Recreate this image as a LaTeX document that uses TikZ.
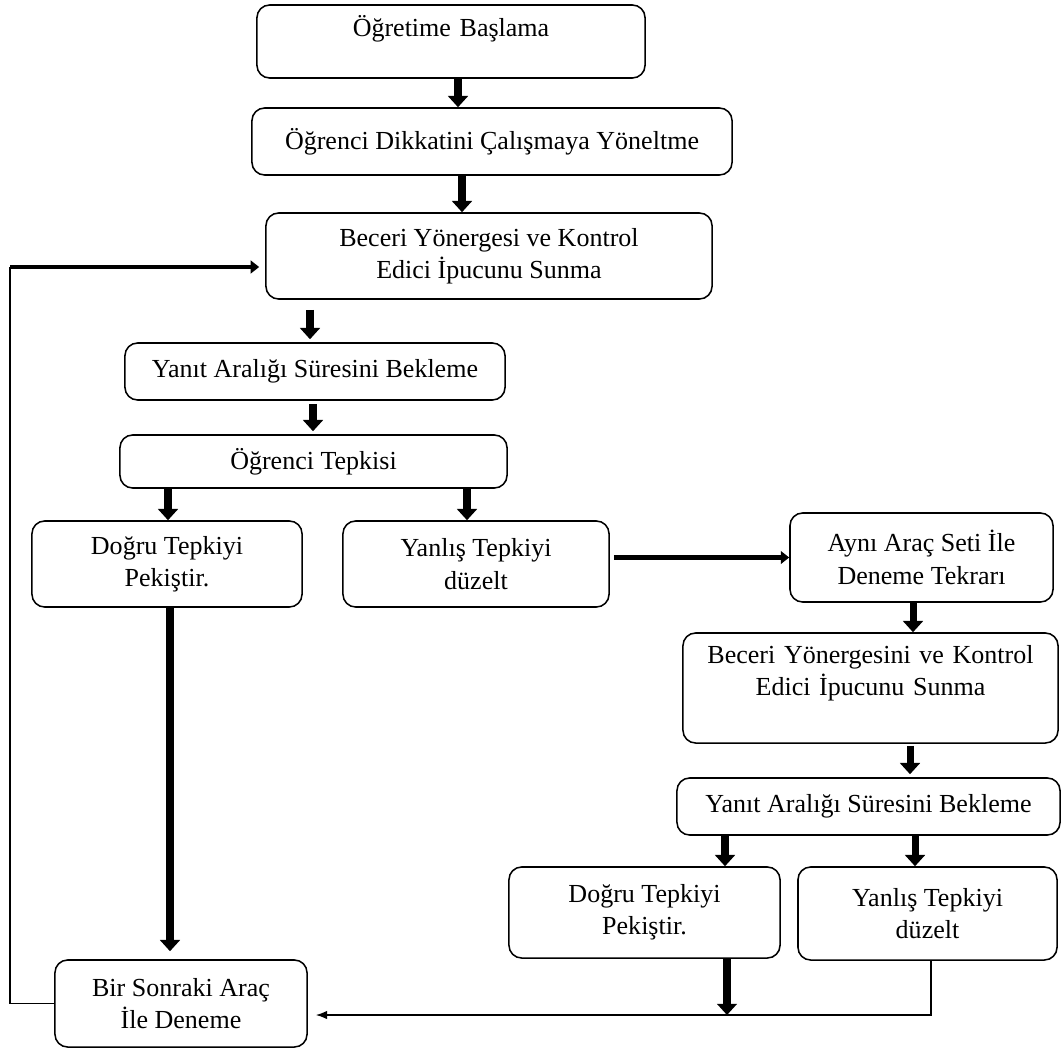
\documentclass[tikz,border=0pt]{standalone}
\usepackage{fontspec}
\setmainfont{Liberation Serif}
\usetikzlibrary{arrows.meta}
\tikzstyle{every node}=[rectangle, rounded corners=9pt, line width=1.1pt, align=center, inner sep=0pt, font=\fontsize{18.5}{23}\selectfont]
\tikzstyle{box}=[draw]
\tikzstyle{bigarrow}=[-{Triangle[length=8pt,width=14pt]}, line width=5pt]
\tikzstyle{midarrow}=[-{Triangle[length=6pt,width=9pt]}, line width=3.2pt]
\tikzstyle{thinline}=[line width=1pt]

\begin{document}
\begin{tikzpicture}[x=0.025cm, y=-0.025cm]
    \useasboundingbox (0,0) rectangle (1062,1052);
    % left column
    \node [box, text width=9.7cm, text height=0.8cm, text depth=1.025cm] (start) at (451,41.5) {Öğretime Başlama};
	\node [box, minimum width=12cm, minimum height=1.675cm] (dikkat) at (492,141.5) {Öğrenci Dikkatini Çalışmaya Yöneltme};
	\node [box, minimum width=11.15cm, minimum height=2.15cm] (beceri) at (489,256) {Beceri Yönergesi ve Kontrol\\Edici İpucunu Sunma};
	\node [box, minimum width=9.5cm, minimum height=1.425cm] (yanit) at (315,371.5) {Yanıt Aralığı Süresini Bekleme};
	\node [box, minimum width=9.675cm, minimum height=1.325cm] (tepki) at (313.5,461.5) {Öğrenci Tepkisi};
	\node [box, minimum width=6.75cm, minimum height=2.15cm] (dogru) at (167,564) {Doğru Tepkiyi\\Pekiştir.};
	\node [box, minimum width=6.65cm, minimum height=2.15cm] (yanlis) at (476,564) {Yanlış Tepkiyi\\düzelt};
	\node [box, minimum width=6.3cm, minimum height=2.175cm] (sonraki) at (181,1003.5) {Bir Sonraki Araç\\İle Deneme};
	% right column
	\node [box, minimum width=6.575cm, minimum height=2.225cm] (ayni) at (921.5,557.5) {Aynı Araç Seti İle\\Deneme Tekrarı};
	\node [box, text width=9.375cm, text height=0.75cm, text depth=2cm] (beceriB) at (870.5,688) {Beceri Yönergesini ve Kontrol\\Edici İpucunu Sunma};
	\node [box, minimum width=9.575cm, minimum height=1.425cm] (yanitB) at (868.5,806.5) {Yanıt Aralığı Süresini Bekleme};
	\node [box, minimum width=6.775cm, minimum height=2.275cm] (dogruB) at (644.5,912.5) {Doğru Tepkiyi\\Pekiştir.};
	\node [box, minimum width=6.475cm, minimum height=2.325cm] (yanlisB) at (927.5,913.5) {Yanlış Tepkiyi\\düzelt};
	\coordinate (fb) at (10,267);
	\coordinate (base) at (931,1015);

	\draw[bigarrow] (458,0 |- start.south) -- (458,0 |- dikkat.north);
	\draw[bigarrow] (462,0 |- dikkat.south) -- (462,0 |- beceri.north);
	\draw[bigarrow, shorten <=0.25cm, shorten >=0.075cm] (310,0 |- beceri.south) -- (310,0 |- yanit.north);
	\draw[bigarrow, shorten <=0.075cm, shorten >=0.075cm] (313,0 |- yanit.south) -- (313,0 |- tepki.north);
	\draw[bigarrow] (168,0 |- tepki.south) -- (168,0 |- dogru.north);
	\draw[bigarrow] (467,0 |- tepki.south) -- (467,0 |- yanlis.north);
	\draw[midarrow, shorten <=0.1cm] (yanlis.east |- ayni.west) -- (ayni.west);
	\draw[bigarrow] (913,0 |- ayni.south) -- (913,0 |- beceriB.north);
	\draw[bigarrow, shorten <=0.05cm, shorten >=0.075cm] (910,0 |- beceriB.south) -- (910,0 |- yanitB.north);
	\draw[bigarrow] (725,0 |- yanitB.south) -- (725,0 |- dogruB.north);
	\draw[bigarrow] (915,0 |- yanitB.south) -- (915,0 |- yanlisB.north);
	\draw[bigarrow, line width=6pt] (170,0 |- dogru.south) -- ([yshift=0.2cm]170,0 |- sonraki.north);
	\draw[bigarrow, line width=6pt] (727,0 |- dogruB.south) -- (727,0 |- base);
	% return lines
	\draw[thinline, -{Latex[length=8pt,width=6pt]}, shorten >=0.2cm] (base |- yanlisB.south) -- (base) -- (sonraki.east |- base);
	\draw[thinline] (sonraki.west) -- (sonraki.west -| fb) -- (fb);
	\draw[midarrow, shorten >=0.15cm] (fb) -- (fb -| beceri.west);
\end{tikzpicture}
\end{document}
